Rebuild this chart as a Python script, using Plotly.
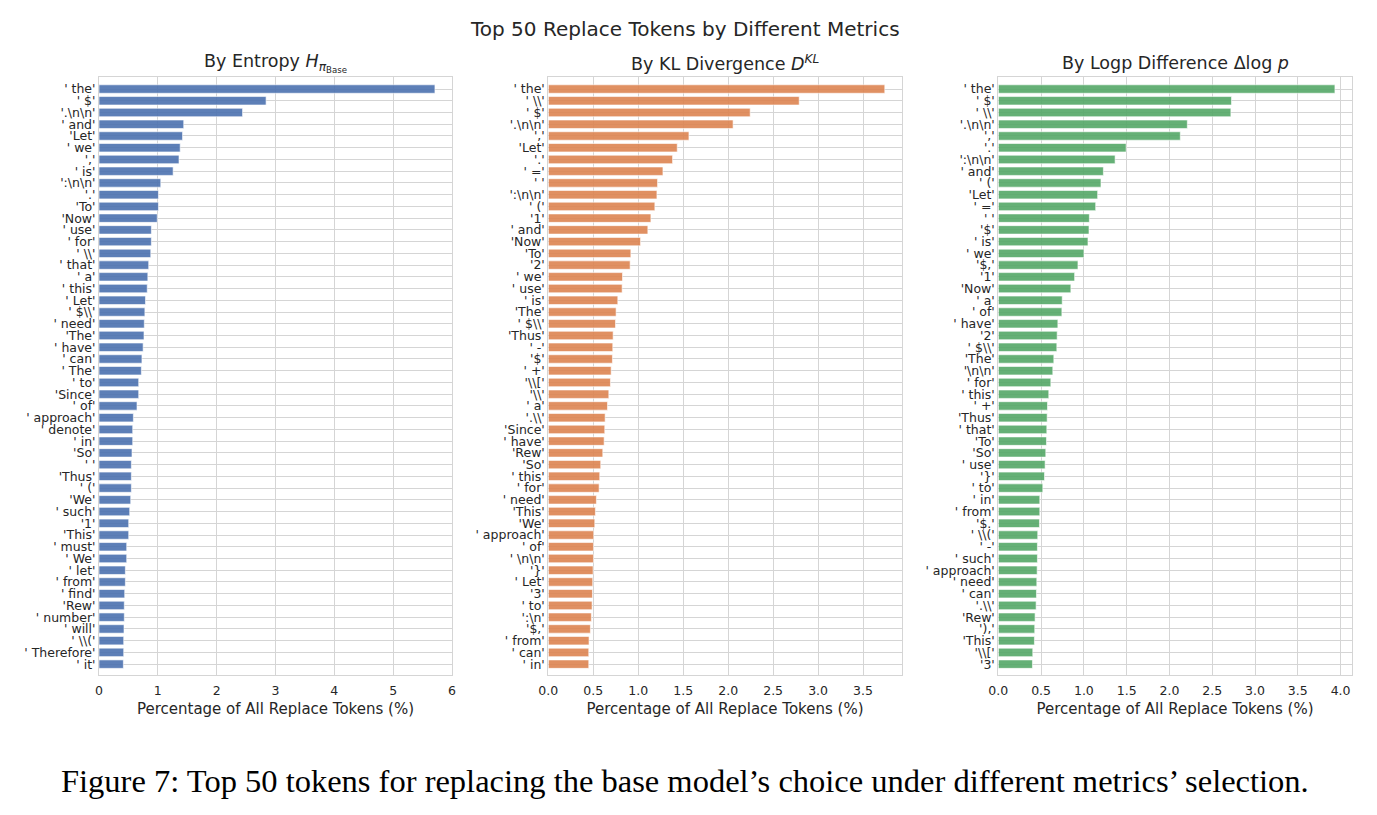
import plotly.graph_objects as go

# ---------------- data ----------------
entropy_tokens = ["' the'", "' $'", "'.\\n\\n'", "' and'", "'Let'", "' we'", "','", "' is'", "':\\n\\n'", "'.'",
                  "'To'", "'Now'", "' use'", "' for'", "' \\\\'", "' that'", "' a'", "' this'", "' Let'", "' $\\\\'",
                  "' need'", "'The'", "' have'", "' can'", "' The'", "' to'", "'Since'", "' of'", "' approach'", "' denote'",
                  "' in'", "'So'", "' '", "'Thus'", "' ('", "'We'", "' such'", "'1'", "'This'", "' must'",
                  "' We'", "' let'", "' from'", "' find'", "'Rew'", "' number'", "' will'", "' \\\\('", "' Therefore'", "' it'"]
entropy_values = [5.71, 2.84, 2.44, 1.44, 1.42, 1.38, 1.36, 1.26, 1.05, 1.01,
                  1.01, 0.99, 0.89, 0.89, 0.88, 0.845, 0.83, 0.82, 0.79, 0.78,
                  0.77, 0.765, 0.75, 0.73, 0.72, 0.675, 0.675, 0.646, 0.584, 0.573,
                  0.573, 0.561, 0.55, 0.55, 0.55, 0.539, 0.522, 0.505, 0.505, 0.471,
                  0.471, 0.448, 0.448, 0.437, 0.43, 0.43, 0.425, 0.42, 0.42, 0.414]

kl_tokens = ["' the'", "' \\\\'", "' $'", "'.\\n\\n'", "','", "'Let'", "'.'", "' ='", "' '", "':\\n\\n'",
             "' ('", "'1'", "' and'", "'Now'", "'To'", "'2'", "' we'", "' use'", "' is'", "'The'",
             "' $\\\\'", "'Thus'", "' -'", "'$'", "' +'", "'\\\\['", "'\\\\'", "' a'", "'.\\\\'", "'Since'",
             "' have'", "'Rew'", "'So'", "' this'", "' for'", "' need'", "'This'", "'We'", "' approach'", "' of'",
             "' \\n\\n'", "'}'", "' Let'", "'3'", "' to'", "':\\n'", "'$,'", "' from'", "' can'", "' in'"]
kl_values = [3.742, 2.79, 2.245, 2.055, 1.564, 1.434, 1.382, 1.275, 1.215, 1.208,
             1.185, 1.141, 1.107, 1.026, 0.918, 0.910, 0.825, 0.821, 0.773, 0.754,
             0.747, 0.721, 0.717, 0.713, 0.699, 0.691, 0.673, 0.658, 0.632, 0.628,
             0.621, 0.606, 0.583, 0.572, 0.565, 0.535, 0.524, 0.517, 0.505, 0.502,
             0.502, 0.498, 0.494, 0.491, 0.487, 0.479, 0.468, 0.453, 0.45, 0.45]

logp_tokens = ["' the'", "' $'", "' \\\\'", "'.\\n\\n'", "','", "'.'", "':\\n\\n'", "' and'", "' ('", "'Let'",
               "' ='", "' '", "'$'", "' is'", "' we'", "'$,'", "'1'", "'Now'", "' a'", "' of'",
               "' have'", "'2'", "' $\\\\'", "'The'", "'\\n\\n'", "' for'", "' this'", "' +'", "'Thus'", "' that'",
               "'To'", "'So'", "' use'", "'}'", "' to'", "' in'", "' from'", "'$.'", "' \\\\('", "' -'",
               "' such'", "' approach'", "' need'", "' can'", "'.\\\\'", "'Rew'", "'),'", "'This'", "'\\\\['", "'3'"]
logp_values = [3.934, 2.725, 2.718, 2.209, 2.127, 1.494, 1.365, 1.228, 1.200, 1.161,
               1.138, 1.064, 1.060, 1.048, 1.001, 0.931, 0.892, 0.848, 0.747, 0.743,
               0.696, 0.688, 0.684, 0.649, 0.637, 0.614, 0.590, 0.575, 0.571, 0.567,
               0.563, 0.555, 0.547, 0.540, 0.520, 0.485, 0.485, 0.481, 0.461, 0.457,
               0.457, 0.454, 0.450, 0.446, 0.442, 0.430, 0.426, 0.422, 0.403, 0.399]

panel_titles = ["By Entropy <i>H</i><sub><i>π</i><sub>Base</sub></sub>",
                "By KL Divergence <i>D</i><sup><i>KL</i></sup>",
                "By Logp Difference Δlog <i>p</i>"]
main_title = "Top 50 Replace Tokens by Different Metrics"
x_title = "Percentage of All Replace Tokens (%)"
caption = "Figure 7: Top 50 tokens for replacing the base model’s choice under different metrics’ selection."

colors = ["#4C72B0", "#DD8452", "#55A868"]

# ---------------- figure ----------------
W, H = 1377, 815
def px(x): return x / W
def py(y): return 1 - y / H

x_domains = [[px(99), px(452)], [px(548.3), px(901.7)], [px(998.3), px(1351.7)]]
y_domain = [py(674.7), py(77.3)]
x_ranges = [[0, 6.0], [0, 3.93], [0, 4.13]]
x_ticks = [[0, 1, 2, 3, 4, 5, 6],
           [0, 0.5, 1.0, 1.5, 2.0, 2.5, 3.0, 3.5],
           [0, 0.5, 1.0, 1.5, 2.0, 2.5, 3.0, 3.5, 4.0]]
x_tickfmt = ["d", ".1f", ".1f"]

fig = go.Figure()
datasets = [(entropy_tokens, entropy_values), (kl_tokens, kl_values), (logp_tokens, logp_values)]
txtcol = "#262626"
gridcol = "#d5d5d5"
for i, (toks, vals) in enumerate(datasets):
    n = i + 1
    suffix = "" if n == 1 else str(n)
    pos = list(range(len(toks)))
    fig.add_trace(go.Bar(
        x=vals, y=pos, orientation="h", width=0.72,
        marker=dict(color=colors[i], opacity=0.9, line=dict(color="white", width=0.6)),
        xaxis="x" + suffix, yaxis="y" + suffix, showlegend=False, hoverinfo="x+y"))
    fig.layout["xaxis" + suffix] = dict(
        domain=x_domains[i], range=x_ranges[i], anchor="y" + suffix, automargin=False,
        tickvals=x_ticks[i], tickformat=x_tickfmt[i],
        showgrid=True, gridcolor=gridcol, gridwidth=1,
        showline=True, linecolor=gridcol, linewidth=1, mirror=True,
        zeroline=False, ticks="", ticklen=0, ticklabelstandoff=4,
        tickfont=dict(family="DejaVu Sans", size=12.5, color=txtcol),
        title=dict(text=x_title, font=dict(family="DejaVu Sans", size=15, color=txtcol), standoff=6))
    fig.layout["yaxis" + suffix] = dict(
        domain=y_domain, range=[49.9, -1.0], anchor="x" + suffix, automargin=False,
        tickvals=pos, ticktext=toks,
        showgrid=True, gridcolor=gridcol, gridwidth=1,
        showline=True, linecolor=gridcol, linewidth=1, mirror=True,
        zeroline=False, ticks="", ticklen=0,
        tickfont=dict(family="DejaVu Sans", size=12.5, color=txtcol))

annotations = []
for i, t in enumerate(panel_titles):
    annotations.append(dict(text=t, x=(x_domains[i][0] + x_domains[i][1]) / 2, y=py(63),
                            xref="paper", yref="paper", xanchor="center", yanchor="middle",
                            showarrow=False, font=dict(family="DejaVu Sans", size=17.5, color=txtcol)))
annotations.append(dict(text=main_title, x=px(685), y=py(29), xref="paper", yref="paper",
                        xanchor="center", yanchor="middle", showarrow=False,
                        font=dict(family="DejaVu Sans", size=20, color=txtcol)))
annotations.append(dict(text=caption, x=px(685), y=py(781), xref="paper", yref="paper",
                        xanchor="center", yanchor="middle", showarrow=False,
                        font=dict(family="Liberation Serif", size=32.5, color="#000000")))

fig.update_layout(width=W, height=H, margin=dict(l=0, r=0, t=0, b=0),
                  paper_bgcolor="white", plot_bgcolor="white",
                  bargap=0.28, annotations=annotations)

fig.write_html("out.html")
